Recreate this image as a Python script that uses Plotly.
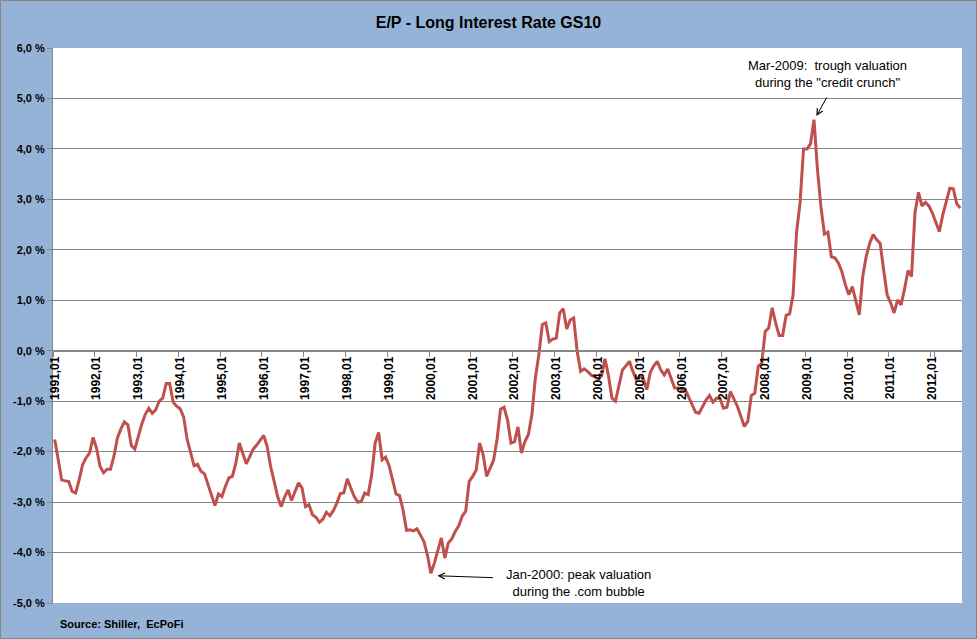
import plotly.graph_objects as go

# Monthly E/P minus GS10 (percent), 1991,01 .. 2012,09
ep_gap = [
    # 1991
    -1.76, -2.20, -2.56, -2.58, -2.59, -2.79, -2.82, -2.56, -2.26, -2.12, -2.03, -1.72,
    # 1992
    -1.93, -2.29, -2.42, -2.35, -2.35, -2.09, -1.73, -1.55, -1.41, -1.47, -1.88, -1.95,
    # 1993
    -1.70, -1.45, -1.26, -1.14, -1.24, -1.17, -1.00, -0.94, -0.65, -0.65, -1.02, -1.10,
    # 1994
    -1.15, -1.31, -1.75, -2.00, -2.28, -2.25, -2.39, -2.44, -2.66, -2.85, -3.07, -2.84,
    # 1995
    -2.89, -2.69, -2.52, -2.49, -2.23, -1.83, -2.03, -2.24, -2.10, -1.95, -1.87, -1.78,
    # 1996
    -1.68, -1.90, -2.30, -2.59, -2.89, -3.09, -2.90, -2.76, -2.97, -2.79, -2.62, -2.72,
    # 1997
    -3.09, -3.05, -3.25, -3.30, -3.40, -3.34, -3.20, -3.27, -3.17, -3.02, -2.83, -2.82,
    # 1998
    -2.54, -2.72, -2.89, -3.00, -2.99, -2.82, -2.85, -2.46, -1.83, -1.62, -2.16, -2.11,
    # 1999
    -2.28, -2.56, -2.84, -2.87, -3.15, -3.56, -3.55, -3.57, -3.53, -3.65, -3.78, -4.05,
    # 2000
    -4.41, -4.21, -3.94, -3.71, -4.11, -3.81, -3.73, -3.58, -3.47, -3.28, -3.18, -2.59,
    # 2001
    -2.49, -2.37, -1.83, -2.06, -2.49, -2.31, -2.17, -1.76, -1.16, -1.12, -1.37, -1.83,
    # 2002
    -1.80, -1.51, -2.03, -1.80, -1.66, -1.27, -0.54, -0.08, 0.52, 0.55, 0.18, 0.23,
    # 2003
    0.25, 0.75, 0.83, 0.43, 0.61, 0.65, -0.01, -0.41, -0.36, -0.41, -0.48, -0.52,
    # 2004
    -0.56, -0.50, -0.16, -0.50, -0.94, -1.00, -0.70, -0.38, -0.30, -0.21, -0.41, -0.57,
    # 2005
    -0.50, -0.56, -0.77, -0.43, -0.30, -0.21, -0.38, -0.48, -0.36, -0.54, -0.74, -0.74,
    # 2006
    -0.77, -0.76, -0.91, -1.07, -1.22, -1.24, -1.12, -0.98, -0.89, -1.02, -0.94, -0.94,
    # 2007
    -1.14, -1.12, -0.81, -0.94, -1.10, -1.30, -1.50, -1.40, -0.89, -0.84, -0.31, -0.25,
    # 2008
    0.38, 0.45, 0.85, 0.55, 0.30, 0.30, 0.70, 0.73, 1.11, 2.35, 2.93, 4.00,
    # 2009
    4.00, 4.10, 4.58, 3.59, 2.85, 2.31, 2.35, 1.86, 1.84, 1.74, 1.57, 1.31,
    # 2010
    1.11, 1.27, 0.98, 0.71, 1.47, 1.87, 2.13, 2.30, 2.20, 2.13, 1.60, 1.11,
    # 2011
    0.95, 0.75, 1.01, 0.91, 1.22, 1.59, 1.47, 2.73, 3.14, 2.87, 2.94, 2.87,
    # 2012
    2.73, 2.56, 2.36, 2.70, 2.99, 3.22, 3.21, 2.91, 2.83,
]

start_year = 1991
months = [f"{start_year + i // 12},{i % 12 + 1:02d}" for i in range(len(ep_gap))]

x_tick_labels = [
    "1991,01", "1992,01", "1993,01", "1994,01", "1995,01", "1996,01", "1997,01",
    "1998,01", "1999,01", "2000,01", "2001,01", "2002,01", "2003,01", "2004,01",
    "2005,01", "2006,01", "2007,01", "2008,01", "2009,01", "2010,01", "2011,01",
    "2012,01",
]
y_tick_vals = [-5, -4, -3, -2, -1, 0, 1, 2, 3, 4, 5, 6]
y_tick_text = ["-5,0 %", "-4,0 %", "-3,0 %", "-2,0 %", "-1,0 %", "0,0 %",
               "1,0 %", "2,0 %", "3,0 %", "4,0 %", "5,0 %", "6,0 %"]

GRID = "#868686"
BG = "#95B3D7"
LINE = "#C0504D"
FONT = "Liberation Sans"

fig = go.Figure()
fig.add_trace(go.Scatter(
    x=months, y=ep_gap, mode="lines",
    line=dict(color=LINE, width=3),
    hoverinfo="x+y", showlegend=False,
))

fig.update_layout(
    width=977, height=639, autosize=False,
    margin=dict(l=53, r=15, t=48, b=36),
    paper_bgcolor=BG, plot_bgcolor="white",
    title=dict(text="<b>E/P - Long Interest Rate GS10</b>", x=0.5, xanchor="center",
               y=1 - 22 / 639, yanchor="middle",
               font=dict(family=FONT, size=16, color="black")),
    xaxis=dict(
        type="category", range=[-0.5, len(ep_gap) - 0.5],
        tickmode="array", tickvals=x_tick_labels, ticktext=x_tick_labels,
        tickson="boundaries", ticks="outside", ticklen=5, tickcolor=GRID,
        tickangle=-90, showgrid=False, showline=True, linecolor=GRID, linewidth=1,
        anchor="free", position=5 / 11, zeroline=False,
        tickfont=dict(family=FONT, size=12, color="black", weight="bold"),
    ),
    yaxis=dict(
        range=[-5, 6], tickmode="array", tickvals=y_tick_vals, ticktext=y_tick_text,
        showgrid=True, gridcolor=GRID, gridwidth=1, zeroline=False,
        showline=True, linecolor=GRID, ticks="outside", ticklen=5, tickcolor=GRID,
        tickfont=dict(family=FONT, size=11, color="black", weight="bold"),
    ),
)

# Outer chart border
fig.add_shape(type="rect", xref="paper", yref="paper",
              x0=(0.5 - 53) / 909, x1=(976.5 - 53) / 909,
              y0=(603 - 638.5) / 555, y1=(603 - 0.5) / 555,
              line=dict(color=GRID, width=1), fillcolor="rgba(0,0,0,0)", layer="below")

annotations = [
    # Mar-2009 arrow
    dict(x=218.7, y=4.65, xref="x", yref="y", text="", showarrow=True,
         arrowhead=5, arrowsize=1.2, arrowwidth=1, arrowcolor="black",
         ax=11, ay=-20, axref="pixel", ayref="pixel"),
    dict(x=221.9, y=5.49, xref="x", yref="y", showarrow=False, align="center",
         xanchor="center", yanchor="middle",
         text="Mar-2009:  trough valuation<br>during the \"credit crunch\"",
         font=dict(family=FONT, size=13, color="black")),
    # Jan-2000 arrow
    dict(x=109.9, y=-4.46, xref="x", yref="y", text="", showarrow=True,
         arrowhead=5, arrowsize=1.2, arrowwidth=1, arrowcolor="black",
         ax=57, ay=2, axref="pixel", ayref="pixel"),
    dict(x=150.4, y=-4.61, xref="x", yref="y", showarrow=False, align="center",
         xanchor="center", yanchor="middle",
         text="Jan-2000: peak valuation<br>during the .com bubble",
         font=dict(family=FONT, size=13, color="black")),
    # Source
    dict(x=(58 - 53) / 909, y=(603 - 624) / 555, xref="paper", yref="paper",
         showarrow=False, xanchor="left", yanchor="middle",
         text="<b>Source: Shiller,  EcPoFi</b>",
         font=dict(family=FONT, size=11, color="black")),
]
fig.update_layout(annotations=annotations)

fig.write_html("out.html", config={"displayModeBar": False},
               post_script="document.body.style.margin='0px';document.body.style.padding='0px';")
